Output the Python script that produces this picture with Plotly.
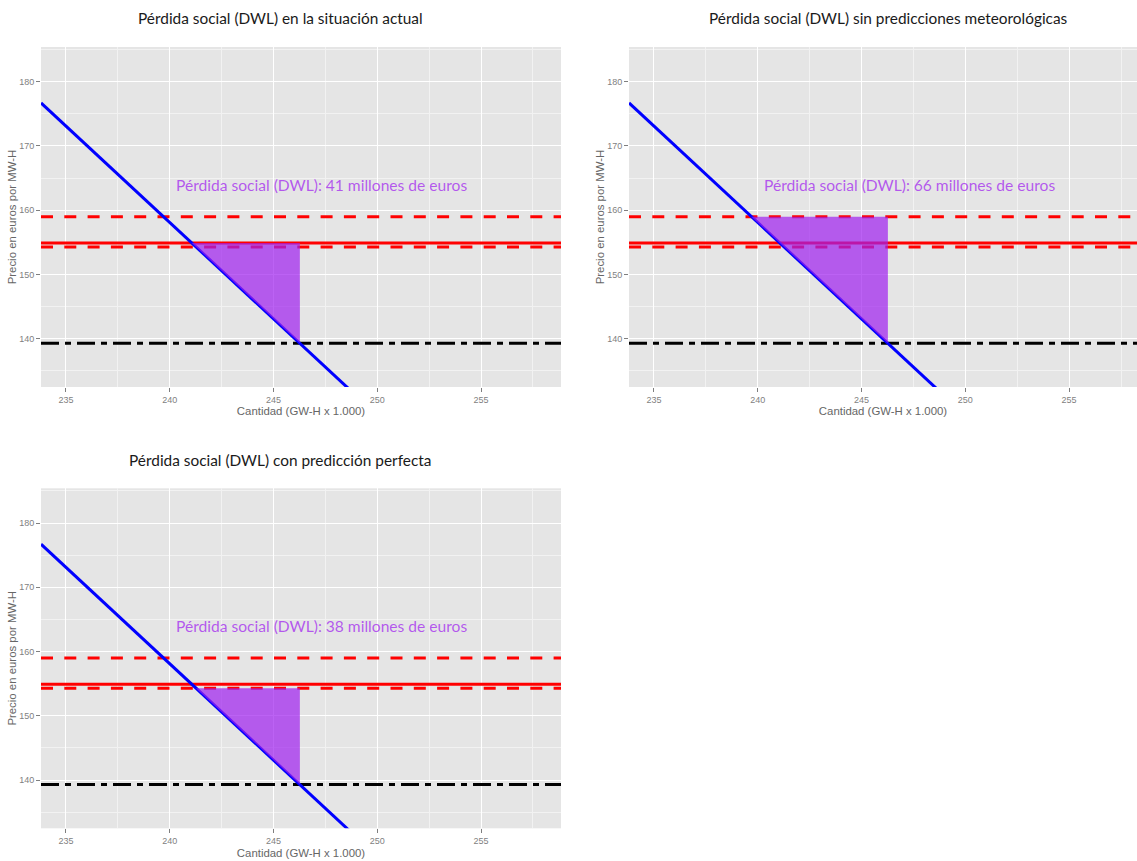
import plotly.graph_objects as go

W, H = 1137, 861

# Demand curve: price (euros per MW-H) against quantity (GW-H x 1.000)
demand_q = [233.8, 250.0]
demand_p = [176.7, 128.1]

# Reference price levels
price_actual = 154.9        # red solid
price_band_upper = 159.0    # red dashed
price_band_lower = 154.3    # red dashed
price_efficient = 139.3     # black dash-dot
q_efficient = 246.27        # demand meets the efficient price

# One entry per panel
panel_titles = [
    "Pérdida social (DWL) en la situación actual",
    "Pérdida social (DWL) sin predicciones meteorológicas",
    "Pérdida social (DWL) con predicción perfecta",
]
dwl_millions = [41, 66, 38]
dwl_top_price = [154.9, 159.0, 154.3]
dwl_left_q = [241.06, 239.69, 241.26]

x_ticks = [235, 240, 245, 250, 255]
x_minor = [237.5, 242.5, 247.5, 252.5, 257.5]
y_ticks = [140, 150, 160, 170, 180]
y_minor = [135, 145, 155, 165, 175, 185]

x_ranges = [[233.8, 258.85], [233.8, 258.27], [233.8, 258.85]]
y_range = [132.5, 185.4]

# panel boxes in pixels: left, right, top, bottom
boxes = [(41, 561, 47, 387), (629, 1137, 47, 387), (41, 561, 488.3, 828.3)]
title_pos = [(280, 18), (888, 18), (280, 460)]

PURPLE_FILL = "rgba(160,32,240,0.7)"
PURPLE_TEXT = "rgba(160,32,240,0.72)"
AXIS_GREY = "#7F7F7F"
TITLE_FONT = "Lato, 'Open Sans', sans-serif"
AXIS_FONT = "'Liberation Sans', Arial, sans-serif"

fig = go.Figure()
annotations = []
layout_axes = {}

for i in range(3):
    n = i + 1
    xa = "x" if n == 1 else f"x{n}"
    ya = "y" if n == 1 else f"y{n}"
    x0, x1 = x_ranges[i]

    # horizontal price levels
    hlines = [
        (price_band_upper, "red", "12px,11.3px"),
        (price_band_lower, "red", "12px,11.3px"),
        (price_actual, "red", "solid"),
        (price_efficient, "black", "18px,6px,6px,6px"),
    ]
    for p, col, dash in hlines:
        fig.add_trace(go.Scatter(
            x=[x0, x1], y=[p, p], mode="lines", xaxis=xa, yaxis=ya,
            line=dict(color=col, width=3, dash=dash),
            showlegend=False, hoverinfo="skip"))

    # demand curve
    fig.add_trace(go.Scatter(
        x=demand_q, y=demand_p, mode="lines", xaxis=xa, yaxis=ya,
        line=dict(color="blue", width=3), showlegend=False, hoverinfo="skip"))

    # deadweight loss triangle
    top = dwl_top_price[i]
    fig.add_trace(go.Scatter(
        x=[dwl_left_q[i], q_efficient, q_efficient, dwl_left_q[i]],
        y=[top, top, price_efficient, top],
        mode="lines", fill="toself", fillcolor=PURPLE_FILL,
        line=dict(width=0, color="rgba(0,0,0,0)"),
        xaxis=xa, yaxis=ya, showlegend=False, hoverinfo="skip"))

    annotations.append(dict(
        x=247.3, y=164.0, xref=xa, yref=ya, showarrow=False,
        text=f"Pérdida social (DWL): {dwl_millions[i]} millones de euros",
        font=dict(family=TITLE_FONT, size=15.6, color=PURPLE_TEXT)))

    tx, ty = title_pos[i]
    annotations.append(dict(
        x=tx / W, y=1 - ty / H, xref="paper", yref="paper",
        xanchor="center", yanchor="middle", showarrow=False,
        text=panel_titles[i],
        font=dict(family=TITLE_FONT, size=15.4, color="#1a1a1a")))

    left, right, top_px, bottom_px = boxes[i]
    common = dict(
        showgrid=True, gridcolor="white", gridwidth=1.2,
        zeroline=False, showline=False,
        ticks="outside", ticklen=4, tickwidth=1, tickcolor=AXIS_GREY,
        tickfont=dict(family=AXIS_FONT, size=9, color=AXIS_GREY),
        tickmode="array", fixedrange=True,
    )
    layout_axes["xaxis" if n == 1 else f"xaxis{n}"] = dict(
        common, domain=[left / W, right / W], range=[x0, x1],
        tickvals=x_ticks, anchor=ya,
        minor=dict(tickmode="array", tickvals=x_minor, showgrid=True,
                   gridcolor="#F2F2F2", gridwidth=0.6, ticks=""),
        title=dict(text="Cantidad (GW-H x 1.000)", standoff=3,
                   font=dict(family=AXIS_FONT, size=11.4, color="#666666")))
    layout_axes["yaxis" if n == 1 else f"yaxis{n}"] = dict(
        common, domain=[1 - bottom_px / H, 1 - top_px / H], range=y_range,
        tickvals=y_ticks, anchor=xa,
        minor=dict(tickmode="array", tickvals=y_minor, showgrid=True,
                   gridcolor="#F2F2F2", gridwidth=0.6, ticks=""),
        title=dict(text="Precio en euros por MW-H", standoff=0,
                   font=dict(family=AXIS_FONT, size=11.4, color="#666666")))

fig.update_layout(
    width=W, height=H,
    margin=dict(l=0, r=0, t=0, b=0),
    paper_bgcolor="white", plot_bgcolor="#E5E5E5",
    annotations=annotations,
    **layout_axes,
)

fig.write_html("out.html")
